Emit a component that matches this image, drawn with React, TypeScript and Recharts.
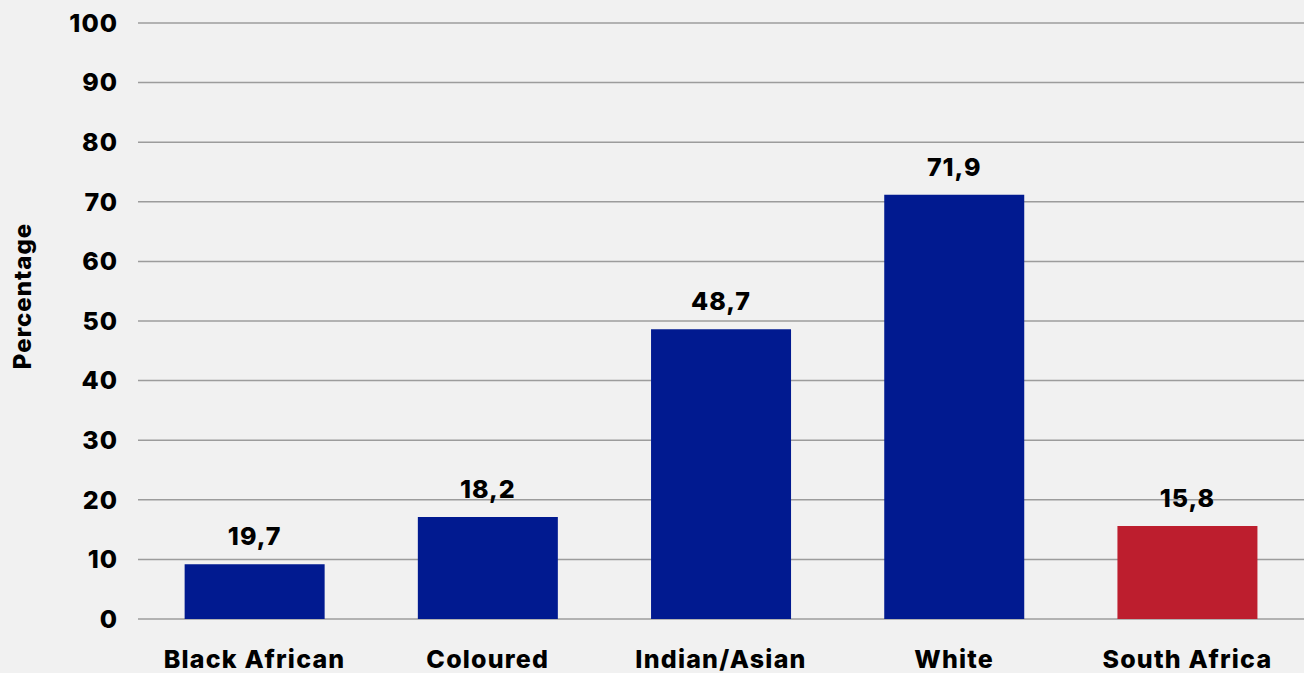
import { Bar, BarChart, CartesianGrid, Cell, LabelList, XAxis, YAxis } from 'recharts';

const categories = ['Black African', 'Coloured', 'Indian/Asian', 'White', 'South Africa'];
// bar heights as drawn in the source picture
const values = [9.2, 17.1, 48.6, 71.2, 15.6];
// value labels as printed above the bars
const valueLabels = ['19,7', '18,2', '48,7', '71,9', '15,8'];
const yTicks = [0, 10, 20, 30, 40, 50, 60, 70, 80, 90, 100];

const BLUE = '#011a90';
const RED = '#bd1e2e';
const barColors = [BLUE, BLUE, BLUE, BLUE, RED];

const FONT = "Inter, 'DejaVu Sans', sans-serif";

const data = categories.map((name, i) => ({ name, value: values[i], label: valueLabels[i] }));

function ValueLabel(props: any) {
  const { x, y, width, index } = props;
  return (
    <text
      x={x + width / 2}
      y={y - 19}
      textAnchor="middle"
      fontFamily={FONT}
      fontWeight={800}
      fontSize={25}
      letterSpacing={1}
      fill="#000"
    >
      {valueLabels[index]}
    </text>
  );
}

function YTitle(props: any) {
  const { viewBox } = props;
  const cx = viewBox.x + 22;
  const cy = viewBox.y + viewBox.height / 2 - 25;
  return (
    <text
      x={cx}
      y={cy}
      transform={`rotate(-90, ${cx}, ${cy})`}
      textAnchor="middle"
      dominantBaseline="central"
      fontFamily={FONT}
      fontWeight={800}
      fontSize={24}
      letterSpacing={1}
      fill="#000"
    >
      Percentage
    </text>
  );
}

export default function App() {
  return (
    <div style={{ position: 'absolute', left: 0, top: 0, width: 1304, height: 673, background: '#f1f1f1', overflow: 'hidden' }}>
      <BarChart
        width={1304}
        height={673}
        data={data}
        margin={{ top: 23, right: 0, left: 0, bottom: 0 }}
        barCategoryGap="20%"
      >
        <CartesianGrid vertical={false} stroke="#9c9c9c" strokeWidth={1.5} />
        <XAxis
          dataKey="name"
          axisLine={false}
          tickLine={false}
          tickSize={0}
          tickMargin={31}
          height={54}
          interval={0}
          tick={{ fill: '#000', fontFamily: FONT, fontWeight: 800, fontSize: 25, letterSpacing: 1.2 }}
        />
        <YAxis
          domain={[0, 100]}
          ticks={yTicks}
          width={138}
          axisLine={false}
          tickLine={false}
          tickSize={0}
          tickMargin={20}
          tick={{ fill: '#000', fontFamily: FONT, fontWeight: 800, fontSize: 25, letterSpacing: 1 }}
          label={<YTitle />}
        />
        <Bar dataKey="value" isAnimationActive={false}>
          {data.map((d, i) => (
            <Cell key={d.name} fill={barColors[i]} />
          ))}
          <LabelList dataKey="label" content={<ValueLabel />} />
        </Bar>
      </BarChart>
    </div>
  );
}
